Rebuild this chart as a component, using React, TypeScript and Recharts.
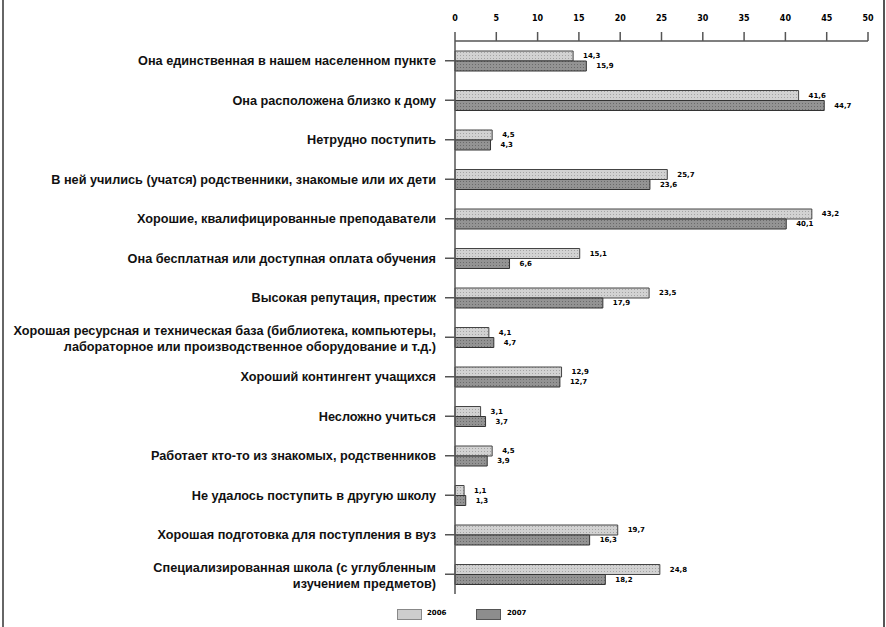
import React from 'react';
import { BarChart, Bar, XAxis, YAxis, LabelList } from 'recharts';

const categories: string[][] = [
  ['Она единственная в нашем населенном пункте'],
  ['Она расположена близко к дому'],
  ['Нетрудно поступить'],
  ['В ней учились (учатся) родственники, знакомые или их дети'],
  ['Хорошие, квалифицированные преподаватели'],
  ['Она бесплатная или доступная оплата обучения'],
  ['Высокая репутация, престиж'],
  ['Хорошая ресурсная и техническая база (библиотека, компьютеры,', 'лабораторное или производственное оборудование и т.д.)'],
  ['Хороший контингент учащихся'],
  ['Несложно учиться'],
  ['Работает кто-то из знакомых, родственников'],
  ['Не удалось поступить в другую школу'],
  ['Хорошая подготовка для поступления в вуз'],
  ['Специализированная школа (с углубленным', 'изучением предметов)'],
];

const values2006: number[] = [14.3, 41.6, 4.5, 25.7, 43.2, 15.1, 23.5, 4.1, 12.9, 3.1, 4.5, 1.1, 19.7, 24.8];
const values2007: number[] = [15.9, 44.7, 4.3, 23.6, 40.1, 6.6, 17.9, 4.7, 12.7, 3.7, 3.9, 1.3, 16.3, 18.2];
const xTicks: number[] = [0, 5, 10, 15, 20, 25, 30, 35, 40, 45, 50];
const seriesNames = ['2006', '2007'];

const data = categories.map((c, i) => ({
  name: c.join('\n'),
  v2006: values2006[i],
  v2007: values2007[i],
}));

const fmt = (v: any) => Number(v).toFixed(1).replace('.', ',');

const catFont = 'Liberation Sans, Arial, sans-serif';
const catSize = 12.7;

const CatTick = (props: any) => {
  const { x, y, payload } = props;
  const lines: string[] = String(payload.value).split('\n');
  if (lines.length === 1) {
    return (
      <text x={x} y={y} dy={4.5} textAnchor="end" fontFamily={catFont} fontWeight="bold" fontSize={catSize} fill="#111">
        {lines[0]}
      </text>
    );
  }
  return (
    <text x={x} y={y} textAnchor="end" fontFamily={catFont} fontWeight="bold" fontSize={catSize} fill="#111">
      <tspan x={x} dy={-2.5}>{lines[0]}</tspan>
      <tspan x={x} dy={16}>{lines[1]}</tspan>
    </text>
  );
};

const labelStyle = { fontSize: 7, fontWeight: 'bold' as const, fontFamily: 'DejaVu Sans, Verdana, sans-serif', fill: '#000' };

export default function App() {
  return (
    <div style={{ position: 'absolute', left: 0, top: 0, width: 886, height: 627, background: '#fff', overflow: 'hidden' }}>
      <div style={{ position: 'absolute', left: 2, top: 0, width: 2, height: 627, background: '#666' }} />
      <div style={{ position: 'absolute', left: 883, top: 0, width: 2, height: 627, background: '#555' }} />
      <BarChart
        width={886}
        height={627}
        data={data}
        layout="vertical"
        margin={{ top: 0, right: 18, left: 0, bottom: 33 }}
        barGap={0}
      >
        <defs>
          <pattern id="p2006" width="3" height="3" patternUnits="userSpaceOnUse">
            <rect width="3" height="3" fill="#d2d2d2" />
            <rect x="1" y="1" width="1" height="1" fill="#a4a4a4" />
          </pattern>
          <pattern id="p2007" width="3" height="3" patternUnits="userSpaceOnUse">
            <rect width="3" height="3" fill="#939393" />
            <rect x="1" y="1" width="1" height="1" fill="#6a6a6a" />
          </pattern>
        </defs>
        <XAxis
          type="number"
          orientation="top"
          domain={[0, 50]}
          ticks={xTicks}
          height={41}
          tickSize={9}
          tickMargin={11}
          interval={0}
          axisLine={{ stroke: '#555', strokeWidth: 1.5 }}
          tickLine={{ stroke: '#555', strokeWidth: 1.5 }}
          tick={{ fontSize: 8, fontWeight: 'bold', fontFamily: 'DejaVu Sans, Verdana, sans-serif', fill: '#000' }}
        />
        <YAxis
          type="category"
          dataKey="name"
          width={455}
          tickSize={10}
          tickMargin={9}
          interval={0}
          axisLine={{ stroke: '#555', strokeWidth: 1.5 }}
          tickLine={{ stroke: '#555', strokeWidth: 1.5 }}
          tick={<CatTick />}
        />
        <Bar dataKey="v2006" name={seriesNames[0]} barSize={10} fill="url(#p2006)" stroke="#444" strokeWidth={1} isAnimationActive={false}>
          <LabelList dataKey="v2006" position="right" offset={10} formatter={fmt} style={labelStyle} />
        </Bar>
        <Bar dataKey="v2007" name={seriesNames[1]} barSize={10} fill="url(#p2007)" stroke="#333" strokeWidth={1} isAnimationActive={false}>
          <LabelList dataKey="v2007" position="right" offset={10} formatter={fmt} style={labelStyle} />
        </Bar>
      </BarChart>
      <div style={{ position: 'absolute', left: 397, top: 609, width: 23, height: 9, border: '1px solid #888', background: '#cdcdcd' }} />
      <div style={{ position: 'absolute', left: 427, top: 608, fontSize: 7, fontWeight: 'bold', fontFamily: 'DejaVu Sans, Verdana, sans-serif', lineHeight: '11px', color: '#000' }}>{seriesNames[0]}</div>
      <div style={{ position: 'absolute', left: 476, top: 609, width: 23, height: 9, border: '1px solid #555', background: '#8d8d8d' }} />
      <div style={{ position: 'absolute', left: 507, top: 608, fontSize: 7, fontWeight: 'bold', fontFamily: 'DejaVu Sans, Verdana, sans-serif', lineHeight: '11px', color: '#000' }}>{seriesNames[1]}</div>
    </div>
  );
}
